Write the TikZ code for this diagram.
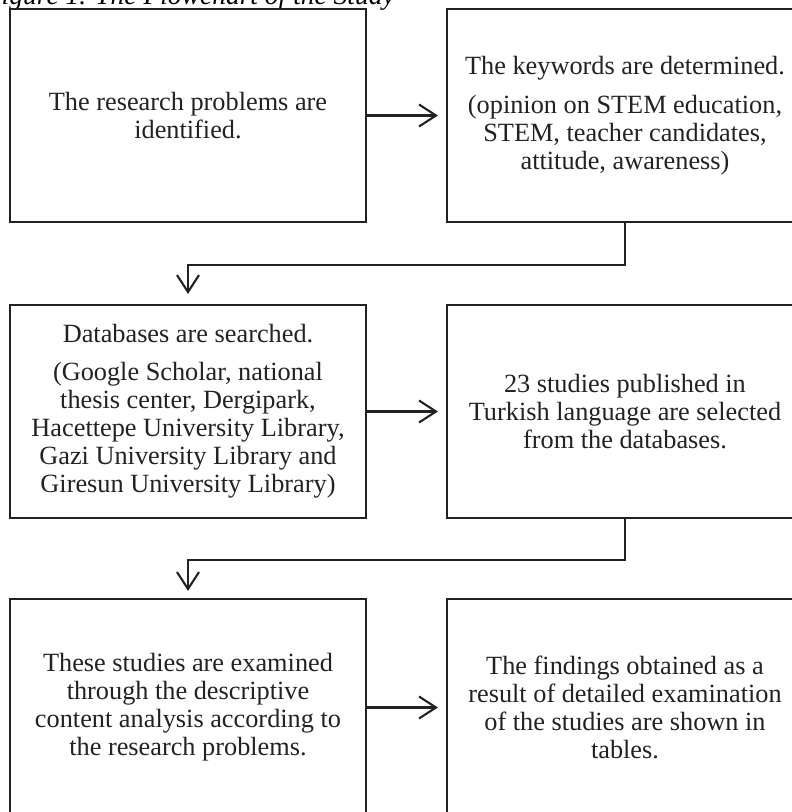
\documentclass[tikz,border=0pt]{standalone}
\usepackage{fontspec}
\setmainfont{Liberation Serif}
\usetikzlibrary{arrows.meta}
\definecolor{ink}{HTML}{222222}
\begin{document}
\begin{tikzpicture}[x=1pt,y=-1pt,
  box/.style={draw=ink, line width=2.1pt, minimum width=356pt, minimum height=213pt,
    inner sep=0pt, align=center, text=ink, font=\fontsize{26.3}{28}\selectfont},
  lastbox/.style={box, minimum height=217pt},
  conn/.style={draw=ink, line width=2.1pt, -{Straight Barb[length=17pt,width=22pt]}}
]
\useasboundingbox (0,0) rectangle (792,812);
\clip (0,0) rectangle (792,812);
\fill[white] (0,0) rectangle (792,812);
\node[anchor=base east, inner sep=0pt, text=black, font=\fontsize{27.5}{30}\selectfont\itshape] (title) at (395,4) {Figure 1. The Flowchart of the Study};

\node[box] (a) at (188,115.5) {The research problems are\\identified.};
\node[box] (b) at (625,115.5) {The keywords are determined.\\[11pt](opinion on STEM education,\\STEM, teacher candidates,\\attitude, awareness)};
\node[box] (c) at (188,411.5) {Databases are searched.\\[10pt](Google Scholar, national\\thesis center, Dergipark,\\Hacettepe University Library,\\Gazi University Library and\\Giresun University Library)};
\node[box] (d) at (625,411.5) {23 studies published in\\Turkish language are selected\\from the databases.};
\node[lastbox] (e) at (188,707.5) {These studies are examined\\through the descriptive\\content analysis according to\\the research problems.};
\node[lastbox] (f) at (625,707.5) {The findings obtained as a\\result of detailed examination\\of the studies are shown in\\tables.};

\draw[conn, shorten >=8pt] (a.east) -- (b.west);
\draw[conn, shorten >=10pt] (b.south) -- ++(0,42) -| (c.north);
\draw[conn, shorten >=8pt] (c.east) -- (d.west);
\draw[conn, shorten >=7pt] (d.south) -- ++(0,41) -| (e.north);
\draw[conn, shorten >=8pt] (e.east) -- (f.west);
\end{tikzpicture}
\end{document}
